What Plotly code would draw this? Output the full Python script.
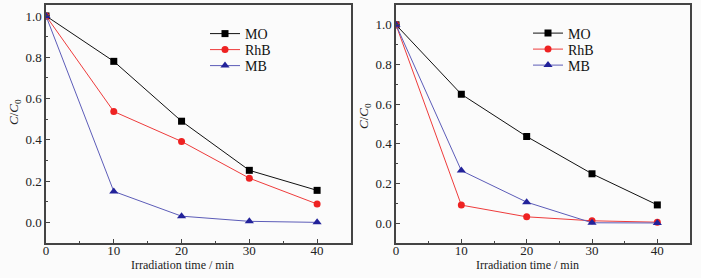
import plotly.graph_objects as go

time = [0, 10, 20, 30, 40]
# left panel
left_MO = [1.0, 0.78, 0.49, 0.252, 0.155]
left_RhB = [1.0, 0.537, 0.392, 0.214, 0.089]
left_MB = [1.0, 0.15, 0.03, 0.005, 0.0]
# right panel
right_MO = [1.0, 0.65, 0.437, 0.249, 0.092]
right_RhB = [1.0, 0.091, 0.032, 0.012, 0.005]
right_MB = [1.0, 0.265, 0.106, 0.002, 0.001]

series_names = ["MO", "RhB", "MB"]
line_colors = ["#111111", "#ee3b3b", "#5c5cb8"]
marker_colors = ["#000000", "#ee2222", "#22229a"]
symbols = ["square", "circle", "triangle-up"]
sizes = [7, 7, 8]

W, H = 701, 278

font = dict(family="Liberation Serif, Times New Roman, serif", size=13, color="#222")
tfont = dict(family="Liberation Serif, Times New Roman, serif", size=12, color="#222")
lfont = dict(family="Liberation Serif, Times New Roman, serif", size=14, color="#111")
axcol = "#444"

fig = go.Figure()
panels = [
    ([left_MO, left_RhB, left_MB], "x", "y", 205, [34, 50, 66]),
    ([right_MO, right_RhB, right_MB], "x2", "y2", 528, [33.5, 49.5, 65.5]),
]
legends = {}
k = 0
for data, xa, ya, lx, lys in panels:
    for name, vals, lc, mc, sym, sz, ly in zip(series_names, data, line_colors, marker_colors, symbols, sizes, lys):
        k += 1
        lname = "legend" if k == 1 else f"legend{k}"
        legends[lname] = dict(x=lx / W, y=1 - ly / H, xanchor="left", yanchor="middle", visible=True,
                              bgcolor="rgba(0,0,0,0)", font=lfont, itemwidth=30)
        fig.add_trace(go.Scatter(
            x=time, y=vals, name=name, mode="lines+markers",
            line=dict(color=lc, width=1),
            marker=dict(color=mc, symbol=sym, size=sz),
            xaxis=xa, yaxis=ya, legend=lname, showlegend=True,
        ))

xcommon = dict(range=[0, 45], tickvals=[0, 10, 20, 30, 40], ticks="inside", ticklen=4,
               tickcolor=axcol, showline=True, linecolor=axcol, linewidth=1.5, mirror=True,
               showgrid=False, zeroline=False, tickfont=font, automargin=False,
               ticklabelstandoff=-5,
               minor=dict(dtick=5, ticks="inside", ticklen=2, tickcolor=axcol))
ycommon = dict(tickvals=[0, 0.2, 0.4, 0.6, 0.8, 1.0], tickformat=".1f", ticks="inside", ticklen=4,
               tickcolor=axcol, showline=True, linecolor=axcol, linewidth=1.5, mirror=True,
               showgrid=False, zeroline=False, tickfont=font, automargin=False,
               minor=dict(dtick=0.1, ticks="inside", ticklen=2, tickcolor=axcol))

annotations = []
for cx in (182, 527):
    annotations.append(dict(text="Irradiation time / min", x=cx / W, y=1 - 265 / H, xref="paper", yref="paper",
                            xanchor="center", yanchor="middle", showarrow=False, font=tfont))
for cx, cy in ((15, 112), (364, 116)):
    annotations.append(dict(text="<i>C</i>/<i>C</i><sub>0</sub>", x=cx / W, y=1 - cy / H, xref="paper", yref="paper",
                            xanchor="center", yanchor="middle", showarrow=False, textangle=-90, font=font))

fig.update_layout(
    width=W, height=H,
    margin=dict(l=0, r=0, t=0, b=0),
    paper_bgcolor="#fbfbfb", plot_bgcolor="#fbfbfb",
    font=font,
    showlegend=True,
    xaxis=dict(domain=[46 / W, 351 / W], anchor="y", **xcommon),
    yaxis=dict(domain=[1 - 243 / H, 1 - 5 / H], anchor="x", range=[-0.1, 1.053], **ycommon),
    xaxis2=dict(domain=[396 / W, 690 / W], anchor="y2", **xcommon),
    yaxis2=dict(domain=[1 - 243 / H, 1 - 5 / H], anchor="x2", range=[-0.1, 1.1], **ycommon),
    annotations=annotations,
    **legends,
)
fig.write_html("out.html", config={"displayModeBar": False},
               post_script="document.body.style.margin='0';document.body.style.background='#fbfbfb';")
